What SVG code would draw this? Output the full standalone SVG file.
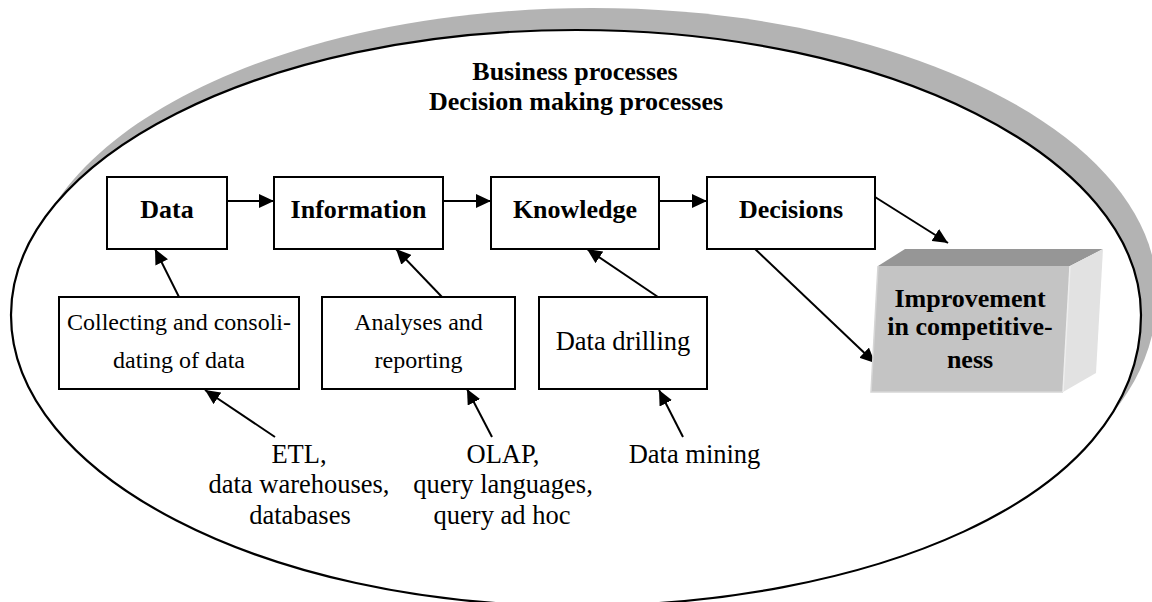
<svg xmlns="http://www.w3.org/2000/svg" width="1152" height="602" viewBox="0 0 1152 602">
<style>
.box{fill:#fff;stroke:#000;stroke-width:2}
.b{font-family:"Liberation Serif","Times New Roman",serif;font-weight:bold;font-size:26px;fill:#000;text-anchor:middle}
.r{font-family:"Liberation Serif","Times New Roman",serif;font-size:24px;fill:#000;text-anchor:middle}
.rl{font-family:"Liberation Serif","Times New Roman",serif;font-size:26.5px;fill:#000;text-anchor:middle}
.c{stroke:#000;stroke-width:2;fill:none;marker-end:url(#ah)}
</style>
<defs>
<marker id="ah" viewBox="0 0 15 14" refX="15" refY="7" markerWidth="15" markerHeight="14" markerUnits="userSpaceOnUse" orient="auto">
<path d="M0,0 L15,7 L0,14 z" fill="#000"/>
</marker>
<path id="oval" d="M11,315 C11,157.6 264,30 576,30 C888,30 1141,157.6 1141,315 C1141,504 858,606 576,606 C264,606 11,475 11,315 Z"/>
</defs>
<rect width="1152" height="602" fill="#fff"/>
<g id="frame">
<use href="#oval" transform="translate(16,-22)" fill="#b3b3b3"/>
<use href="#oval" fill="#fff" stroke="#000" stroke-width="2.2"/>
<text class="b" x="575" y="80">Business processes</text>
<text class="b" x="576" y="110">Decision making processes</text>
</g>
<g id="connectors">
<line class="c" x1="227" y1="201" x2="274" y2="201"/>
<line class="c" x1="443" y1="201" x2="491" y2="201"/>
<line class="c" x1="659" y1="201" x2="707" y2="201"/>
<line class="c" x1="179" y1="297" x2="155" y2="249"/>
<line class="c" x1="442" y1="297" x2="396" y2="249"/>
<line class="c" x1="658" y1="297" x2="587" y2="249"/>
<line class="c" x1="875" y1="197" x2="948" y2="243"/>
<line class="c" x1="754" y1="248" x2="875" y2="363"/>
<line class="c" x1="275" y1="437" x2="205" y2="390"/>
<line class="c" x1="492" y1="437" x2="467" y2="389"/>
<line class="c" x1="683" y1="437" x2="659" y2="390"/>
</g>
<g id="data">
<rect class="box" x="107" y="177" width="120" height="72"/>
<text class="b" x="167" y="218">Data</text>
</g>
<g id="information">
<rect class="box" x="274" y="177" width="169" height="72"/>
<text class="b" x="358.5" y="218">Information</text>
</g>
<g id="knowledge">
<rect class="box" x="491" y="177" width="168" height="72"/>
<text class="b" x="575" y="218">Knowledge</text>
</g>
<g id="decisions">
<rect class="box" x="707" y="177" width="168" height="72"/>
<text class="b" x="791" y="218">Decisions</text>
</g>
<g id="collecting">
<rect class="box" x="59" y="297" width="240" height="92"/>
<text class="r" x="179" y="330">Collecting and consoli-</text>
<text class="r" x="179" y="368">dating of data</text>
</g>
<g id="analyses">
<rect class="box" x="322" y="297" width="193" height="92"/>
<text class="r" x="418.5" y="330">Analyses and</text>
<text class="r" x="418.5" y="368">reporting</text>
</g>
<g id="drilling">
<rect class="box" x="539" y="297" width="168" height="92"/>
<text class="rl" x="623" y="350">Data drilling</text>
</g>
<g id="improvement">
<polygon points="878,266 1070,266 1103,249 905,249" fill="#969696"/>
<polygon points="1070,266 1103,249 1096,373 1063,392" fill="#e2e2e2"/>
<polygon points="878,266 1070,266 1063,392 871,392" fill="#c4c4c4"/>
<polyline points="878,266 871,392 1063,392" fill="none" stroke="#d6d6d6" stroke-width="1.5"/>
<line x1="1070" y1="266" x2="1063" y2="392" stroke="#eeeeee" stroke-width="1.5"/>
<text class="b" x="970" y="307">Improvement</text>
<text class="b" x="970" y="335">in competitive-</text>
<text class="b" x="970" y="368">ness</text>
</g>
<g id="etl">
<text class="rl" x="299" y="463">ETL,</text>
<text class="rl" x="299" y="493">data warehouses,</text>
<text class="rl" x="300" y="524">databases</text>
</g>
<g id="olap">
<text class="rl" x="503" y="463">OLAP,</text>
<text class="rl" x="503" y="493">query languages,</text>
<text class="rl" x="502" y="524">query ad hoc</text>
</g>
<g id="mining">
<text class="rl" x="694.5" y="463">Data mining</text>
</g>
</svg>
